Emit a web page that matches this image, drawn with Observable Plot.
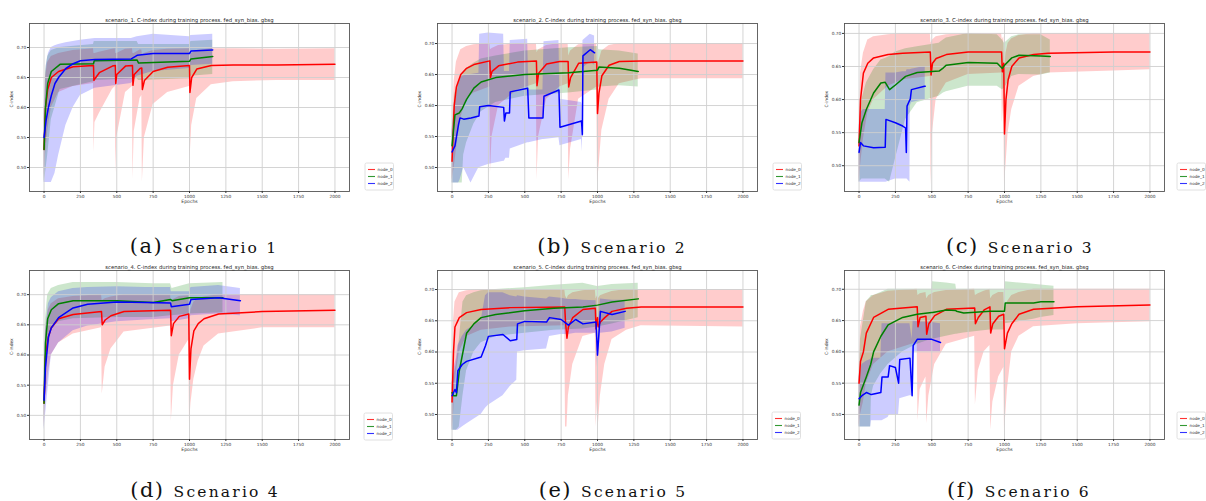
<!DOCTYPE html>
<html><head><meta charset="utf-8">
<script src="https://cdn.jsdelivr.net/npm/d3@7"></script>
<script src="https://cdn.jsdelivr.net/npm/@observablehq/plot@0.6"></script>
<style>
body{margin:0;background:#fff;}
#root{position:relative;width:1206px;height:501px;overflow:hidden;background:#fff;}
.pn{position:absolute;}
</style></head>
<body><div id="root"></div>
<script>
// ---------- data: [epoch, mean, lower, upper] ----------
const xTicks = [0,250,500,750,1000,1250,1500,1750,2000];
const yTicks = [0.50,0.55,0.60,0.65,0.70];
const nodeNames = ["node_0","node_1","node_2"];
const nodeColors = ["#ff0000","#008000","#0000ff"];
const titles = [1,2,3,4,5,6].map(i => `scenario_${i}. C-index during training process. fed_syn_bias. gbsg`);
const captionLetters = ["(a)","(b)","(c)","(d)","(e)","(f)"];
const captionTexts = ["Scenario 1","Scenario 2","Scenario 3","Scenario 4","Scenario 5","Scenario 6"];

const s1_node0 = [[0,0.53,0.48,0.58],[10,0.60,0.52,0.65],[25,0.63,0.56,0.675],[50,0.65,0.60,0.685],[100,0.66,0.625,0.69],[200,0.668,0.635,0.695],[340,0.67,0.64,0.698],[343,0.645,0.525,0.69],[350,0.648,0.575,0.69],[380,0.658,0.59,0.692],[470,0.669,0.63,0.697],[490,0.67,0.635,0.698],[493,0.64,0.49,0.69],[500,0.655,0.55,0.69],[560,0.669,0.625,0.697],[608,0.67,0.635,0.698],[611,0.637,0.48,0.69],[620,0.655,0.56,0.69],[660,0.665,0.615,0.696],[672,0.666,0.62,0.696],[676,0.63,0.475,0.688],[690,0.645,0.55,0.69],[750,0.66,0.605,0.695],[850,0.667,0.625,0.697],[1000,0.67,0.635,0.698],[1003,0.625,0.51,0.685],[1015,0.65,0.57,0.69],[1050,0.664,0.615,0.695],[1150,0.67,0.638,0.698],[1300,0.671,0.643,0.698],[1600,0.671,0.645,0.697],[2000,0.672,0.645,0.698]];
const s1_node1 = [[0,0.53,0.475,0.58],[10,0.60,0.49,0.66],[25,0.64,0.52,0.685],[50,0.66,0.58,0.695],[110,0.672,0.63,0.70],[340,0.673,0.643,0.705],[345,0.678,0.645,0.71],[640,0.679,0.648,0.71],[650,0.674,0.645,0.705],[1000,0.677,0.648,0.705],[1010,0.681,0.652,0.71],[1160,0.685,0.655,0.712]];
const s1_node2 = [[0,0.55,0.475,0.60],[15,0.58,0.475,0.67],[30,0.60,0.475,0.69],[50,0.62,0.475,0.70],[75,0.64,0.49,0.703],[100,0.65,0.52,0.705],[150,0.665,0.57,0.708],[200,0.673,0.60,0.71],[250,0.678,0.62,0.712],[350,0.68,0.632,0.715],[600,0.681,0.64,0.715],[640,0.687,0.652,0.718],[750,0.69,0.66,0.722],[1000,0.69,0.665,0.718],[1010,0.694,0.67,0.72],[1160,0.696,0.672,0.722]];

const s2_node0 = [[0,0.51,0.48,0.55],[15,0.60,0.50,0.64],[30,0.63,0.53,0.67],[60,0.65,0.58,0.69],[100,0.66,0.61,0.695],[150,0.666,0.62,0.698],[260,0.672,0.63,0.70],[264,0.645,0.49,0.69],[275,0.655,0.55,0.692],[320,0.664,0.60,0.697],[450,0.67,0.625,0.70],[580,0.672,0.635,0.70],[584,0.632,0.48,0.685],[595,0.652,0.55,0.69],[650,0.667,0.61,0.697],[740,0.671,0.63,0.70],[798,0.671,0.635,0.70],[802,0.63,0.48,0.68],[815,0.645,0.53,0.688],[870,0.668,0.61,0.698],[995,0.67,0.63,0.70],[1000,0.587,0.475,0.65],[1010,0.62,0.50,0.672],[1030,0.648,0.56,0.688],[1080,0.665,0.61,0.697],[1150,0.671,0.635,0.70],[1300,0.672,0.643,0.70],[2000,0.672,0.643,0.70]];
const s2_node1 = [[0,0.535,0.475,0.56],[20,0.585,0.475,0.62],[50,0.588,0.475,0.64],[70,0.595,0.475,0.65],[80,0.60,0.52,0.655],[100,0.61,0.54,0.66],[150,0.628,0.57,0.668],[200,0.638,0.59,0.675],[300,0.645,0.605,0.68],[500,0.65,0.615,0.688],[800,0.653,0.62,0.693],[1000,0.657,0.625,0.695],[1010,0.662,0.63,0.69],[1150,0.66,0.632,0.688],[1280,0.655,0.63,0.683]];
const s2_node2 = [[0,0.525,0.475,0.56],[20,0.535,0.475,0.60],[45,0.57,0.475,0.635],[55,0.58,0.48,0.645],[80,0.578,0.50,0.648],[130,0.58,0.475,0.65],[185,0.583,0.50,0.652],[190,0.598,0.50,0.715],[250,0.60,0.505,0.717],[355,0.597,0.51,0.715],[360,0.575,0.51,0.655],[370,0.588,0.515,0.655],[395,0.588,0.515,0.655],[400,0.622,0.53,0.705],[520,0.628,0.54,0.707],[528,0.58,0.54,0.625],[625,0.58,0.545,0.625],[632,0.615,0.545,0.703],[735,0.625,0.548,0.705],[742,0.565,0.535,0.61],[890,0.575,0.545,0.605],[896,0.553,0.525,0.60],[900,0.68,0.66,0.705],[950,0.69,0.67,0.715],[980,0.685,0.665,0.712]];

const s3_node0 = [[0,0.53,0.475,0.54],[10,0.60,0.50,0.64],[30,0.64,0.54,0.67],[60,0.655,0.58,0.69],[100,0.663,0.60,0.695],[200,0.668,0.62,0.698],[300,0.67,0.63,0.70],[490,0.672,0.635,0.70],[495,0.637,0.47,0.685],[505,0.655,0.55,0.69],[530,0.662,0.60,0.695],[600,0.668,0.625,0.698],[750,0.672,0.638,0.70],[980,0.672,0.64,0.70],[985,0.642,0.565,0.69],[995,0.655,0.60,0.695],[1000,0.548,0.47,0.64],[1010,0.60,0.50,0.67],[1025,0.63,0.55,0.685],[1050,0.65,0.585,0.692],[1100,0.663,0.62,0.697],[1200,0.668,0.635,0.70],[1300,0.67,0.64,0.70],[1750,0.672,0.643,0.70],[2000,0.672,0.645,0.70]];
const s3_node1 = [[0,0.535,0.475,0.55],[20,0.565,0.48,0.60],[50,0.585,0.48,0.625],[100,0.61,0.48,0.645],[150,0.625,0.48,0.66],[180,0.626,0.48,0.662],[210,0.615,0.475,0.665],[250,0.622,0.51,0.672],[320,0.635,0.57,0.677],[400,0.641,0.595,0.68],[550,0.643,0.605,0.685],[580,0.648,0.61,0.69],[600,0.652,0.612,0.693],[750,0.656,0.62,0.70],[950,0.655,0.62,0.698],[985,0.647,0.615,0.69],[1000,0.652,0.617,0.685],[1050,0.663,0.635,0.695],[1100,0.667,0.638,0.698],[1250,0.666,0.637,0.698],[1315,0.665,0.64,0.69]];
const s3_node2 = [[0,0.52,0.475,0.56],[10,0.535,0.475,0.58],[30,0.53,0.475,0.585],[100,0.527,0.475,0.585],[180,0.528,0.475,0.585],[185,0.57,0.475,0.64],[250,0.565,0.48,0.64],[300,0.56,0.48,0.642],[320,0.557,0.48,0.642],[325,0.52,0.48,0.642],[330,0.59,0.48,0.645],[350,0.60,0.475,0.645],[352,0.60,0.59,0.645],[360,0.615,0.595,0.646],[450,0.62,0.60,0.65],[455,0.62,0.60,0.65]];

const s4_node0 = [[0,0.52,0.48,0.56],[10,0.60,0.52,0.64],[30,0.63,0.57,0.675],[50,0.645,0.60,0.685],[100,0.66,0.62,0.693],[200,0.667,0.635,0.697],[395,0.672,0.645,0.70],[400,0.65,0.535,0.69],[420,0.658,0.58,0.693],[460,0.665,0.61,0.696],[550,0.672,0.638,0.70],[870,0.674,0.648,0.70],[875,0.632,0.49,0.685],[890,0.652,0.55,0.692],[930,0.664,0.60,0.697],[995,0.668,0.625,0.698],[1000,0.56,0.485,0.65],[1010,0.61,0.52,0.675],[1030,0.64,0.56,0.688],[1060,0.652,0.59,0.693],[1100,0.66,0.615,0.696],[1200,0.668,0.635,0.70],[1500,0.672,0.645,0.70],[2000,0.674,0.645,0.70]];
const s4_node1 = [[0,0.52,0.475,0.56],[10,0.62,0.56,0.66],[25,0.66,0.60,0.70],[50,0.675,0.64,0.71],[100,0.685,0.655,0.715],[200,0.69,0.66,0.72],[500,0.69,0.662,0.72],[750,0.687,0.662,0.718],[870,0.692,0.665,0.718],[880,0.69,0.665,0.71],[1000,0.695,0.668,0.718],[1230,0.695,0.67,0.72]];
const s4_node2 = [[0,0.525,0.475,0.56],[10,0.58,0.50,0.64],[30,0.63,0.55,0.685],[50,0.645,0.60,0.695],[100,0.662,0.62,0.705],[200,0.678,0.64,0.71],[300,0.684,0.648,0.712],[500,0.688,0.655,0.713],[700,0.687,0.658,0.712],[870,0.686,0.66,0.712],[875,0.68,0.655,0.705],[1000,0.684,0.66,0.705],[1010,0.692,0.665,0.712],[1200,0.695,0.668,0.715],[1350,0.69,0.665,0.71]];

const s5_node0 = [[0,0.52,0.475,0.55],[10,0.60,0.50,0.65],[20,0.64,0.55,0.68],[50,0.655,0.60,0.695],[100,0.663,0.625,0.698],[200,0.668,0.635,0.70],[400,0.671,0.64,0.70],[775,0.672,0.642,0.70],[780,0.648,0.48,0.69],[790,0.622,0.48,0.685],[800,0.64,0.53,0.69],[830,0.655,0.58,0.695],[900,0.668,0.625,0.698],[985,0.67,0.63,0.70],[990,0.637,0.48,0.685],[1000,0.655,0.52,0.69],[1005,0.64,0.48,0.685],[1020,0.648,0.53,0.69],[1050,0.655,0.58,0.693],[1100,0.665,0.62,0.697],[1200,0.67,0.635,0.70],[1300,0.672,0.642,0.70],[2000,0.672,0.64,0.70]];
const s5_node1 = [[0,0.535,0.475,0.55],[10,0.53,0.475,0.56],[30,0.53,0.475,0.58],[50,0.57,0.48,0.62],[75,0.60,0.53,0.68],[100,0.63,0.57,0.69],[150,0.645,0.60,0.695],[200,0.655,0.615,0.698],[300,0.66,0.625,0.70],[500,0.666,0.63,0.703],[700,0.67,0.635,0.707],[900,0.672,0.637,0.71],[1000,0.675,0.64,0.705],[1100,0.68,0.645,0.708],[1280,0.685,0.655,0.71]];
const s5_node2 = [[0,0.53,0.475,0.55],[20,0.54,0.475,0.58],[30,0.535,0.475,0.59],[40,0.57,0.475,0.61],[70,0.58,0.48,0.625],[100,0.585,0.485,0.635],[200,0.592,0.50,0.65],[230,0.61,0.51,0.69],[250,0.625,0.515,0.695],[350,0.628,0.53,0.695],[400,0.618,0.545,0.69],[445,0.62,0.555,0.688],[450,0.645,0.60,0.69],[500,0.649,0.602,0.688],[650,0.648,0.605,0.685],[670,0.655,0.625,0.688],[750,0.652,0.628,0.686],[800,0.643,0.628,0.684],[850,0.652,0.63,0.684],[900,0.645,0.63,0.683],[990,0.648,0.63,0.682],[1000,0.595,0.575,0.62],[1020,0.665,0.63,0.685],[1100,0.66,0.632,0.683],[1190,0.665,0.638,0.683]];

const s6_node0 = [[0,0.55,0.48,0.56],[10,0.585,0.50,0.64],[30,0.60,0.52,0.665],[50,0.63,0.55,0.68],[100,0.655,0.58,0.69],[200,0.668,0.60,0.697],[400,0.672,0.615,0.70],[405,0.64,0.49,0.69],[420,0.655,0.54,0.693],[460,0.657,0.56,0.695],[465,0.628,0.485,0.685],[480,0.645,0.53,0.69],[520,0.658,0.58,0.695],[600,0.668,0.612,0.698],[795,0.670,0.625,0.70],[800,0.645,0.515,0.69],[820,0.655,0.57,0.693],[860,0.667,0.60,0.697],[900,0.672,0.61,0.70],[905,0.63,0.475,0.685],[920,0.645,0.52,0.69],[960,0.657,0.56,0.695],[995,0.66,0.575,0.695],[1000,0.605,0.47,0.665],[1020,0.63,0.54,0.68],[1050,0.645,0.60,0.69],[1100,0.66,0.625,0.695],[1200,0.668,0.64,0.70],[1500,0.672,0.645,0.70],[2000,0.675,0.648,0.70]];
const s6_node1 = [[0,0.515,0.48,0.55],[10,0.535,0.48,0.62],[50,0.56,0.48,0.68],[80,0.58,0.48,0.688],[85,0.585,0.53,0.69],[100,0.60,0.545,0.69],[150,0.625,0.565,0.695],[200,0.643,0.58,0.70],[300,0.655,0.60,0.70],[400,0.66,0.612,0.70],[500,0.663,0.62,0.70],[505,0.663,0.62,0.712],[600,0.667,0.625,0.71],[665,0.666,0.628,0.708],[670,0.665,0.628,0.70],[720,0.662,0.63,0.70],[900,0.665,0.635,0.70],[1000,0.665,0.635,0.70],[1005,0.678,0.645,0.712],[1200,0.678,0.652,0.708],[1250,0.68,0.655,0.707],[1340,0.68,0.658,0.705]];
const s6_node2 = [[0,0.525,0.48,0.56],[20,0.53,0.48,0.58],[50,0.535,0.48,0.585],[80,0.532,0.48,0.588],[85,0.532,0.49,0.59],[150,0.535,0.49,0.59],[158,0.56,0.49,0.645],[200,0.56,0.495,0.645],[210,0.578,0.50,0.645],[250,0.575,0.50,0.645],[272,0.55,0.50,0.645],[280,0.588,0.525,0.645],[350,0.59,0.53,0.645],[365,0.53,0.53,0.62],[372,0.61,0.60,0.65],[400,0.62,0.60,0.648],[500,0.62,0.60,0.647],[560,0.615,0.60,0.645]];

// ---------- layout ----------
const panels = [
  {left:0,   top:0,   w:400, h:230, ml:29, mr:51, mt:23, mb:39, ydom:[0.46,0.74],     series:[s1_node0,s1_node1,s1_node2], legend:[365,163], cap:[204,253]},
  {left:400, top:0,   w:406, h:230, ml:37, mr:49, mt:23, mb:39, ydom:[0.4613,0.7323], series:[s2_node0,s2_node1,s2_node2], legend:[773,163], cap:[612,253]},
  {left:805, top:0,   w:401, h:230, ml:39, mr:42, mt:23, mb:39, ydom:[0.461,0.715],   series:[s3_node0,s3_node1,s3_node2], legend:[1177,163], cap:[1020,253]},
  {left:0,   top:250, w:400, h:230, ml:29, mr:51, mt:20, mb:41, ydom:[0.46,0.74],     series:[s4_node0,s4_node1,s4_node2], legend:[364,413], cap:[205,497]},
  {left:400, top:250, w:406, h:230, ml:37, mr:49, mt:20, mb:41, ydom:[0.46,0.7304],   series:[s5_node0,s5_node1,s5_node2], legend:[772,412], cap:[613,497]},
  {left:805, top:250, w:401, h:230, ml:39, mr:42, mt:20, mb:41, ydom:[0.46,0.730],    series:[s6_node0,s6_node1,s6_node2], legend:[1177,412], cap:[1019,497]}
];

const root = document.getElementById("root");
const FONT = "DejaVu Sans, sans-serif";

panels.forEach((p, i) => {
  const rows = p.series.map((s, k) => s.map(([ep, m, lo, hi]) => ({ep, m, lo, hi, node: nodeNames[k]})));
  const marks = [];
  rows.forEach((r, k) => marks.push(Plot.areaY(r, {x:"ep", y1:"lo", y2:"hi", fill: nodeColors[k], fillOpacity: 0.2})));
  marks.push(Plot.gridX(xTicks, {stroke:"#cfcfcf", strokeOpacity:1, strokeWidth:0.9}));
  marks.push(Plot.gridY(yTicks, {stroke:"#cfcfcf", strokeOpacity:1, strokeWidth:0.9}));
  rows.forEach((r, k) => marks.push(Plot.line(r, {x:"ep", y:"m", stroke: nodeColors[k], strokeWidth: 1.5})));
  marks.push(Plot.frame({stroke:"#555", strokeWidth:0.9}));
  marks.push(Plot.axisX(xTicks, {tickSize:2, tickPadding:1.2, fontSize:4.3, label:null, tickFormat: d => String(d), stroke:"#333", fill:"#333"}));
  marks.push(Plot.axisY(yTicks, {tickSize:2, tickPadding:1.2, fontSize:4.3, label:null, tickFormat: d => d.toFixed(2), stroke:"#333", fill:"#333"}));
  marks.push(Plot.text([titles[i]], {frameAnchor:"top", dy:-5, fontSize:5.3, fill:"#222"}));
  marks.push(Plot.text(["Epochs"], {frameAnchor:"bottom", dy:11, fontSize:4.6, fill:"#333"}));
  marks.push(Plot.text(["C-index"], {frameAnchor:"left", dx:-18, rotate:-90, fontSize:4.4, fill:"#333"}));

  const chart = Plot.plot({
    width: p.w, height: p.h,
    marginLeft: p.ml, marginRight: p.mr, marginTop: p.mt, marginBottom: p.mb,
    x: {domain:[-100,2100]},
    y: {domain: p.ydom},
    style: {fontFamily: FONT, background:"transparent", overflow:"visible"},
    marks
  });
  const div = document.createElement("div");
  div.className = "pn";
  div.style.left = p.left + "px";
  div.style.top = p.top + "px";
  div.appendChild(chart);
  root.appendChild(div);
});

// overlay for legends and sub-captions
const ov = d3.select(root).append("svg")
  .attr("width", 1206).attr("height", 501)
  .style("position","absolute").style("left",0).style("top",0).style("pointer-events","none");

panels.forEach((p, i) => {
  const [lx, ly] = p.legend;
  const g = ov.append("g").attr("transform", `translate(${lx},${ly})`);
  g.append("rect").attr("x",0).attr("y",0).attr("width",28.5).attr("height",27).attr("rx",1.5)
    .attr("fill","#fff").attr("stroke","#d8d8d8").attr("stroke-width",0.8);
  nodeNames.forEach((n, k) => {
    const yy = 6.5 + k*7;
    g.append("line").attr("x1",3).attr("x2",10).attr("y1",yy).attr("y2",yy)
      .attr("stroke", nodeColors[k]).attr("stroke-width",1.1).attr("stroke-opacity", 0.8);
    g.append("text").attr("x",12.5).attr("y",yy).attr("dy","0.35em")
      .attr("font-family",FONT).attr("font-size",4.2).attr("fill","#333").text(n);
  });
  const [cx, cy] = p.cap;
  const t = ov.append("text").attr("x",cx).attr("y",cy).attr("text-anchor","middle")
    .attr("font-family","DejaVu Serif, serif").attr("fill","#111");
  t.append("tspan").attr("font-size",21).attr("letter-spacing",1.5).text(captionLetters[i]);
  t.append("tspan").attr("font-size",15.5).attr("letter-spacing",2.2).attr("dx",9).text(captionTexts[i]);
});
</script>
</body></html>
